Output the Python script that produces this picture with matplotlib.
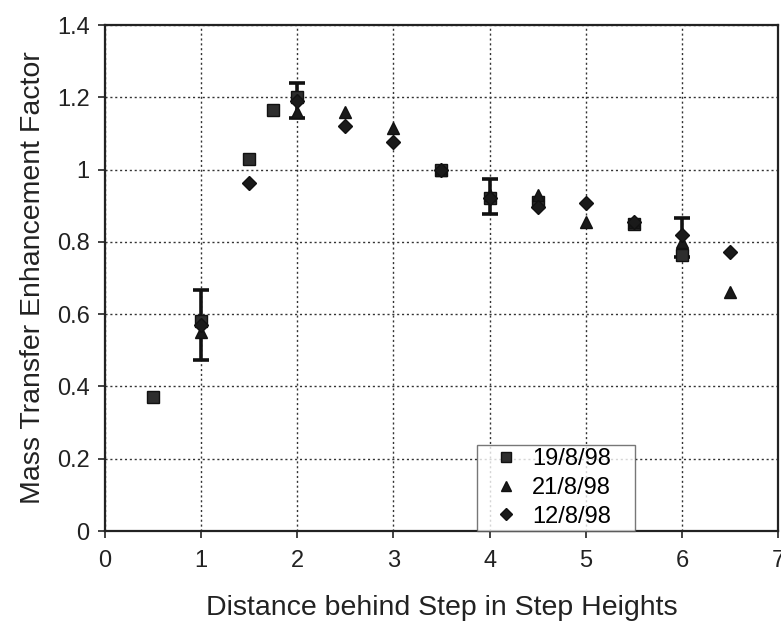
import matplotlib
matplotlib.use("Agg")
import matplotlib.pyplot as plt

plt.rcParams['font.family'] = ['Liberation Sans', 'DejaVu Sans']

sq_x = [0.5, 1, 1.5, 1.75, 2, 3.5, 4, 4.5, 5.5, 6]
sq_y = [0.37, 0.58, 1.03, 1.165, 1.20, 1.0, 0.92, 0.91, 0.85, 0.763]

tri_x = [1, 2, 2.5, 3, 3.5, 4, 4.5, 5, 5.5, 6, 6.5]
tri_y = [0.55, 1.16, 1.16, 1.115, 1.0, 0.93, 0.93, 0.855, 0.855, 0.80, 0.662]

dia_x = [1, 1.5, 2, 2.5, 3, 3.5, 4, 4.5, 5, 5.5, 6, 6.5]
dia_y = [0.57, 0.963, 1.19, 1.12, 1.077, 1.0, 0.92, 0.897, 0.908, 0.855, 0.818, 0.773]

err_x = [1, 2, 4, 6]
err_c = [0.57, 1.192, 0.926, 0.813]
err_h = [0.097, 0.048, 0.048, 0.054]

labels = ['19/8/98', '21/8/98', '12/8/98']
xticks = [0, 1, 2, 3, 4, 5, 6, 7]
yticks = [0, 0.2, 0.4, 0.6, 0.8, 1.0, 1.2, 1.4]
ytick_labels = ['0', '0.2', '0.4', '0.6', '0.8', '1', '1.2', '1.4']

fig = plt.figure(figsize=(7.81, 6.22), dpi=100)
ax = fig.add_axes([0.1344, 0.1463, 0.8618, 0.8135])

ax.errorbar(err_x, err_c, yerr=err_h, fmt='none', ecolor='#111111',
            elinewidth=2.6, capsize=6, capthick=2.6, zorder=3)
ax.plot(sq_x, sq_y, 's', color='#2e2e2e', markeredgecolor='#111111',
        markersize=8.5, label=labels[0], zorder=4)
ax.plot(tri_x, tri_y, '^', color='#1a1a1a', markeredgecolor='#111111',
        markersize=9, label=labels[1], zorder=4)
ax.plot(dia_x, dia_y, 'D', color='#1a1a1a', markeredgecolor='#111111',
        markersize=7.5, label=labels[2], zorder=5)

ax.set_xlim(0, 7)
ax.set_ylim(0, 1.4)
ax.set_xticks(xticks)
ax.set_yticks(yticks)
ax.set_yticklabels(ytick_labels)
ax.tick_params(axis='both', labelsize=17, length=5, width=1.2, direction='out',
               colors='#222222')
ax.tick_params(axis='y', pad=6)
ax.tick_params(axis='x', pad=9)
ax.grid(True, linestyle=(0, (1.5, 2)), color='#333333', linewidth=1.0)
ax.set_axisbelow(True)
for s in ax.spines.values():
    s.set_linewidth(1.6)
    s.set_color('#222222')

ax.set_xlabel('Distance behind Step in Step Heights', fontsize=20.5, color='#222222', labelpad=16)
ax.set_ylabel('Mass Transfer Enhancement Factor', fontsize=20.5, color='#222222', labelpad=8)

leg = ax.legend(loc='lower left', bbox_to_anchor=(0.5527, 0.0, 0.2348, 0.3),
                mode='expand', fontsize=17,
                frameon=True, fancybox=False, edgecolor='#555555',
                handletextpad=0.0, borderpad=0.14, labelspacing=0.28,
                handlelength=2.2, borderaxespad=0, markerscale=0.8)
leg.get_frame().set_linewidth(1.0)

fig.savefig('out.png', dpi=100)
